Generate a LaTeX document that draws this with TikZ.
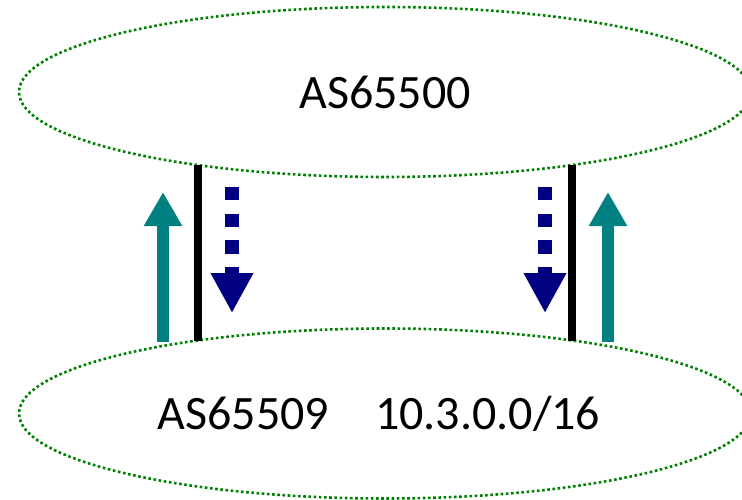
\documentclass[tikz,border=0pt]{standalone}
\usepackage{fontspec}
\setmainfont{Carlito}
\usetikzlibrary{shapes.geometric,arrows.meta,calc}
\definecolor{asGreen}{HTML}{008000}
\definecolor{routeTeal}{HTML}{008080}
\definecolor{routeNavy}{HTML}{000080}
\tikzset{
  as/.style={ellipse, draw=asGreen, line width=2.6pt, dash pattern=on 2.6pt off 2.6pt,
    minimum width=732pt, minimum height=170pt, font=\fontsize{48}{56}\selectfont},
  link/.style={line width=7.5pt, black},
  adv/.style={-{Triangle[width=36pt,length=34pt]}, line width=12.3pt, routeTeal},
  wdr/.style={-{Triangle[width=40pt,length=40pt]}, line width=13.3pt, routeNavy,
    dash pattern=on 13.3pt off 13.3pt},
}

\begin{document}
\begin{tikzpicture}[x=1pt,y=1pt]
  \useasboundingbox (0,0) rectangle (742,499);
  \node[as] (upper) at (385,407)  {AS65500};
  \node[as] (lower) at (385,85.5) {AS65509\hspace{46pt}10.3.0.0/16\hspace*{12pt}};
  % peering links, border to border
  \foreach \n/\dx in {l/-187, r/187} {
    \coordinate (link\n0) at ($(upper.center)+(\dx,-73)$);
    \coordinate (link\n1) at ($(lower.center)+(\dx,72.5)$);
    \draw[link] (link\n0) -- (link\n1);
  }
  % advertised upward, withdrawn downward
  \foreach \n/\x in {l/163, r/608} {
    \coordinate (adv\n0) at (\x,157);
    \coordinate (adv\n1) at (\x,307);
    \draw[adv] (adv\n0) -- (adv\n1);
  }
  \foreach \n/\x in {l/232, r/545} {
    \coordinate (wdr\n0) at (\x,312);
    \coordinate (wdr\n1) at (\x,186);
    \draw[wdr] (wdr\n0) -- (wdr\n1);
  }
\end{tikzpicture}
\end{document}
